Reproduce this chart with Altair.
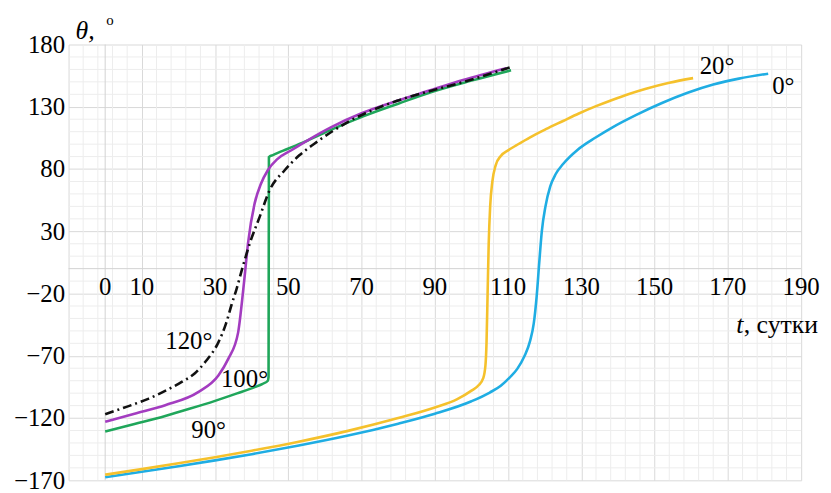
import altair as alt
import pandas as pd

# ---------------- data ----------------
# 0° curve (cyan)
t_0 = [0, 10, 20, 30, 40, 52.5, 66, 80, 90, 100, 105, 108, 110.4, 112.5, 114.5, 116, 117,
       117.8, 118.5, 119.2, 120.2, 121.5, 123, 125, 129, 134, 138.5, 145, 152, 159, 166, 173, 181]
th_0 = [-167.5, -163.2, -158.7, -154, -149, -142.3, -134.3, -124.5, -116.5, -106.5, -99.5, -94,
        -87.5, -80.5, -70, -58, -44, -22, 5, 30, 50, 66, 76, 84, 95.5, 105.5, 113.5, 123.5, 133,
        141.2, 147.8, 152.6, 156.6]

# 20° curve (yellow)
t_20 = [0, 10, 20, 30, 40, 52.5, 66, 80, 90, 96, 100, 102, 103.2, 103.8, 104.1, 104.4, 104.7,
        105.1, 105.7, 106.6, 108, 110, 112.5, 116, 120.3, 125, 129.3, 134, 138.4, 143, 147.4, 154, 160.5]
th_20 = [-165.5, -161, -156.3, -151.4, -146.2, -139.2, -130.5, -120, -111.5, -105, -98, -93.5, -88,
         -78, -60, -20, 20, 50, 70, 83, 90.5, 95, 99.5, 105.5, 112, 118.6, 124.6, 130.5, 135.5, 140.3,
         144.3, 149.3, 153]

# 90° curve (green)
t_90 = [0, 8, 16.4, 23, 30, 36, 40.8, 43, 44.4, 44.6, 44.7, 45.8, 49.9, 55.3, 61.6, 70.6, 80,
        88.7, 100, 110.8]
th_90 = [-130.9, -124.8, -118.3, -112.6, -106.2, -100.2, -95.2, -92.5, -90, -87, 89.6, 91.2, 96.3,
         102.9, 111.5, 122.5, 132.5, 141.5, 151, 159.3]

# 100° curve (purple)
t_100 = [0, 8, 16.4, 25.5, 30.9, 33.6, 36.3, 37.4, 38.2, 39, 40.8, 42.5, 44.4, 47, 50.7, 55.5,
         61.6, 70, 79.7, 88.5, 97.7, 109.5]
th_100 = [-123, -116.5, -109.7, -99, -85.8, -72.5, -51.2, -25, -2.5, 20.5, 52.4, 68, 79, 88, 94.9,
          103.5, 113.5, 124.8, 134.8, 143, 151.5, 161]

# 120° curve (black dash-dot)
t_120 = [0, 6, 11.9, 16.5, 20.9, 24.5, 27.3, 30.9, 33, 34.5, 35.8, 37.6, 39.5, 42.2, 44.9, 49,
         53, 57.1, 66.1, 79.7, 88.5, 97.7, 110.8]
th_120 = [-116.9, -110.8, -104.4, -98, -91, -84, -75, -59.2, -44, -29, -17, 2, 20.5, 41.8, 63, 79,
          91, 100.3, 117.5, 134.8, 142.5, 149.8, 161.9]

# curve labels
lab_text = ["120°", "100°", "90°", "20°", "0°"]
lab_t = [16.4, 31.6, 23.5, 162.3, 182.1]
lab_th = [-64.5, -94.8, -136.3, 156.3, 140.4]

# tick labels
x_tick_labels = [0, 10, 30, 50, 70, 90, 110, 130, 150, 170, 190]
y_tick_labels = [-170, -120, -70, -20, 30, 80, 130, 180]

# ---------------- styling ----------------
FONT = "Liberation Serif"
X_DOMAIN = [-10, 190]
Y_DOMAIN = [-170, 180]
MAJOR = "#d9d9d9"
MINOR = "#ededed"

x_major = list(range(-10, 191, 20))
x_minor = [v for v in range(-10, 191, 4) if (v + 10) % 20 != 0]
y_minor = [v for v in range(-170, 181, 10) if (v + 170) % 50 != 0 and v != 0]


def xenc():
    return alt.X("t:Q", scale=alt.Scale(domain=X_DOMAIN, nice=False, zero=False),
                 axis=alt.Axis(values=x_major, grid=True, gridColor=MAJOR, gridWidth=1,
                               labels=False, ticks=False, domain=False, title=None))


def yenc():
    return alt.Y("theta:Q", scale=alt.Scale(domain=Y_DOMAIN, nice=False, zero=False),
                 axis=alt.Axis(values=y_tick_labels, grid=True, gridColor=MAJOR, gridWidth=1,
                               labelFont=FONT, labelFontSize=25, labelColor="#000",
                               labelPadding=4, ticks=False, domain=False, title=None))


layers = []

# minor grid
layers.append(alt.Chart(pd.DataFrame({"t": x_minor})).mark_rule(color=MINOR, strokeWidth=1)
              .encode(x=xenc()))
layers.append(alt.Chart(pd.DataFrame({"theta": y_minor})).mark_rule(color=MINOR, strokeWidth=1)
              .encode(y=yenc()))
# zero lines
layers.append(alt.Chart(pd.DataFrame({"t": [0]})).mark_rule(color="#d2d2d2", strokeWidth=1)
              .encode(x=xenc()))
layers.append(alt.Chart(pd.DataFrame({"theta": [0]})).mark_rule(color="#d2d2d2", strokeWidth=1)
              .encode(y=yenc()))

curves = [
    (t_0, th_0, "#1fade3", None),
    (t_20, th_20, "#f5c12c", None),
    (t_90, th_90, "#1fa65a", None),
    (t_100, th_100, "#a33cc0", None),
    (t_120, th_120, "#111111", [9, 4, 2, 4]),
]
for ts, ths, col, dash in curves:
    df = pd.DataFrame({"t": ts, "theta": ths, "i": list(range(len(ts)))})
    kw = dict(color=col, strokeWidth=2.6, interpolate="monotone")
    if dash:
        kw["strokeDash"] = dash
    layers.append(alt.Chart(df).mark_line(**kw).encode(x=xenc(), y=yenc(), order="i:Q"))

# x tick labels placed along the zero line
layers.append(
    alt.Chart(pd.DataFrame({"t": x_tick_labels, "theta": [0] * len(x_tick_labels),
                            "label": [str(v) for v in x_tick_labels]}))
    .mark_text(font=FONT, fontSize=25, color="#000", align="center", baseline="top", dy=7)
    .encode(x=xenc(), y=yenc(), text="label:N")
)

# curve labels
layers.append(
    alt.Chart(pd.DataFrame({"t": lab_t, "theta": lab_th, "label": lab_text}))
    .mark_text(font=FONT, fontSize=25, color="#000", align="left", baseline="alphabetic")
    .encode(x=xenc(), y=yenc(), text="label:N")
)

# axis titles
layers.append(
    alt.Chart(pd.DataFrame({"t": [-8.1], "theta": [184.2], "label": ["θ,"]}))
    .mark_text(font=FONT, fontSize=26, fontStyle="italic", color="#000", align="left",
               baseline="alphabetic")
    .encode(x=xenc(), y=yenc(), text="label:N")
)
layers.append(
    alt.Chart(pd.DataFrame({"t": [0.3], "theta": [195.5], "label": ["o"]}))
    .mark_text(font=FONT, fontSize=15, color="#000", align="left", baseline="alphabetic")
    .encode(x=xenc(), y=yenc(), text="label:N")
)
layers.append(
    alt.Chart(pd.DataFrame({"t": [172.3], "theta": [-52], "label": ["t"]}))
    .mark_text(font=FONT, fontSize=26, fontStyle="italic", color="#000", align="left",
               baseline="alphabetic")
    .encode(x=xenc(), y=yenc(), text="label:N")
)
layers.append(
    alt.Chart(pd.DataFrame({"t": [174.3], "theta": [-52], "label": [", сутки"]}))
    .mark_text(font=FONT, fontSize=26, color="#000", align="left", baseline="alphabetic")
    .encode(x=xenc(), y=yenc(), text="label:N")
)

chart = (
    alt.layer(*layers)
    .properties(width=738, height=439, autosize=alt.AutoSizeParams(type="none"),
                padding={"left": 61, "top": 35, "right": 22, "bottom": 11})
    .configure_view(stroke=None)
)

chart.save("out.html", embed_options={"renderer": "svg", "actions": False})
